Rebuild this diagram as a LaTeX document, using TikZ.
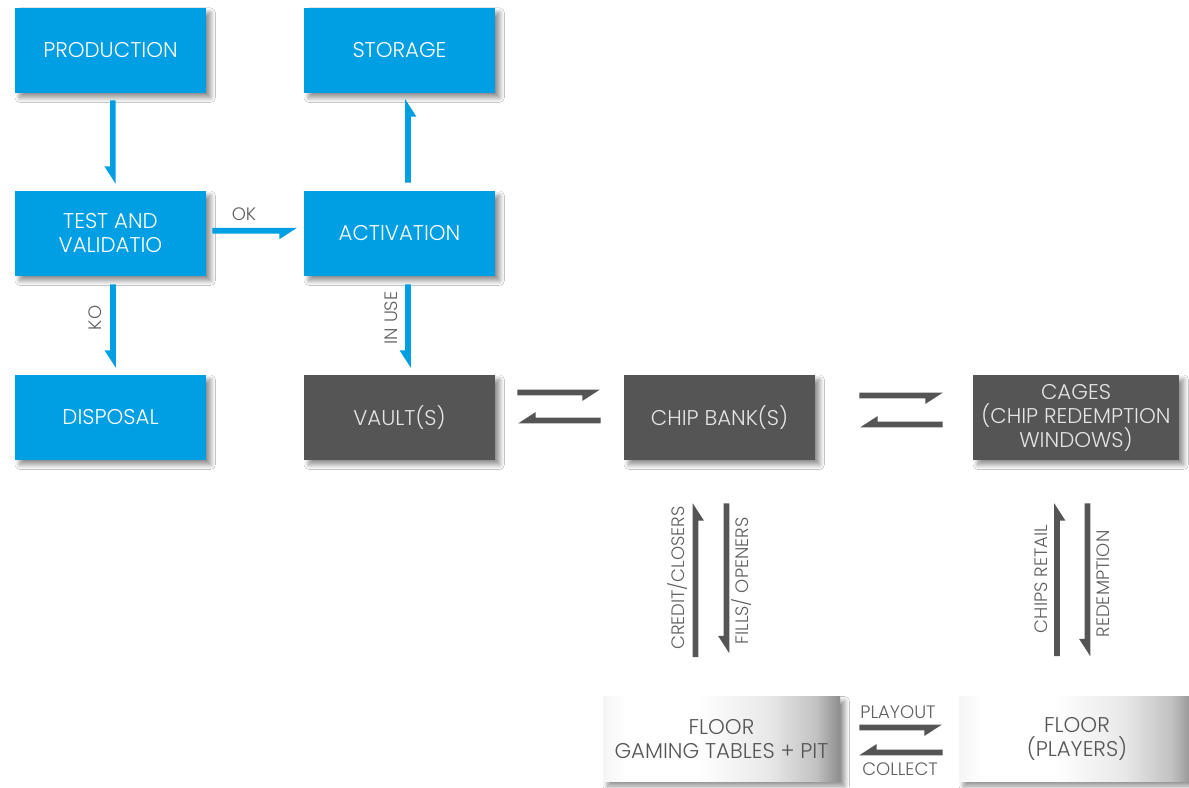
\documentclass[tikz,border=0pt]{standalone}
\usepackage{fontspec}
\setmainfont{Poppins Light}
\usetikzlibrary{calc,shadows.blur}
\definecolor{cblue}{RGB}{0,159,227}
\definecolor{cdark}{RGB}{85,85,85}
\definecolor{carrow}{RGB}{85,85,85}
\definecolor{clabel}{RGB}{95,95,95}
\pgfdeclarehorizontalshading{floorshade}{100bp}{color(0bp)=(black!4); color(25bp)=(black!4); color(30bp)=(white); color(45bp)=(white); color(60bp)=(black!9); color(70bp)=(black!24); color(75bp)=(black!45); color(100bp)=(black!45)}
\def\hw{2.1pt}
\def\hb{6.3pt}
\def\hl{13pt}
\tikzset{
  boxbase/.style={rectangle, minimum width=143.25pt, minimum height=63.75pt, inner sep=0pt, align=center,
    font=\fontsize{16}{18}\selectfont,
    blur shadow={shadow xshift=3.5pt, shadow yshift=-3.5pt, shadow blur radius=3.5pt, shadow blur steps=12, shadow opacity=45}},
  bluebox/.style={boxbase, fill=cblue, text=white},
  darkbox/.style={boxbase, fill=cdark, text=white!90!black},
  floorbox/.style={boxbase, shade, shading=floorshade, text=cdark},
  lbl/.style={font=\fontsize{13.5}{15}\selectfont, text=clabel, inner sep=0pt},
  harp/.style={to path={
    let \p1=(\tikztostart), \p2=(\tikztotarget),
        \n1={veclen(\x2-\x1,\y2-\y1)},
        \n2={(\x2-\x1)/\n1}, \n3={(\y2-\y1)/\n1} in
    ({\x1-(\n3)*\hw},{\y1+(\n2)*\hw})
    -- ({\x2-(\n3)*\hw},{\y2+(\n2)*\hw})
    -- ({\x2-(\n2)*\hl+(\n3)*\hb},{\y2-(\n3)*\hl-(\n2)*\hb})
    -- ({\x2-(\n2)*\hl+(\n3)*\hw},{\y2-(\n3)*\hl-(\n2)*\hw})
    -- ({\x1+(\n3)*\hw},{\y1-(\n2)*\hw}) -- cycle}},
  bluearr/.style={fill=cblue},
  grayarr/.style={fill=carrow},
}
\begin{document}
\begin{tikzpicture}[x=0.75pt,y=-0.75pt]
\useasboundingbox (0,0) rectangle (1189,788);
\fill[white] (0,0) rectangle (1189,788);

% boxes
\node[bluebox] (prod) at (110.5,50.5) {PRODUCTION};
\node[bluebox] (stor) at (399.5,50.5) {STORAGE};
\node[bluebox] (test) at (110.5,233.5) {TEST AND\\VALIDATIO};
\node[bluebox] (act) at (399.5,233.5) {ACTIVATION};
\node[bluebox] (disp) at (110.5,417.5) {DISPOSAL};
\node[darkbox] (vault) at (399.5,417.5) {VAULT(S)};
\node[darkbox] (bank) at (719.5,417.5) {CHIP BANK(S)};
\node[darkbox, minimum width=154.5pt] (cages) at (1076,417.5) {CAGES\\(CHIP REDEMPTION\\WINDOWS)};
\node[floorbox, minimum width=177.75pt] (tables) at (721.5,739) {FLOOR\\GAMING TABLES + PIT};
\node[floorbox, minimum width=177pt] (players) at (1077,739) {FLOOR\\(PLAYERS)};

% blue arrows
\fill[bluearr] ($(prod.south)+(2.3,7)$) to[harp] ($(test.north)+(2.3,-7)$);
\fill[bluearr] ($(act.north)+(8.5,-8)$) to[harp] ($(stor.south)+(8.5,6)$);
\fill[bluearr] ($(test.east)+(6,-2.7)$) to[harp] ($(act.west)+(-7,-2.7)$);
\fill[bluearr] ($(test.south)+(2.5,8)$) to[harp] ($(disp.north)+(2.5,-7)$);
\fill[bluearr] ($(act.south)+(8.5,8)$) to[harp] ($(vault.north)+(8.5,-7)$);

% gray arrows
\fill[grayarr] ($(vault.east)+(22,-25)$) to[harp] ($(bank.west)+(-24,-25)$);
\fill[grayarr] ($(bank.west)+(-23,3)$) to[harp] ($(vault.east)+(23,3)$);
\fill[grayarr] ($(bank.east)+(44,-22)$) to[harp] ($(cages.west)+(-30,-22)$);
\fill[grayarr] ($(cages.west)+(-30,7)$) to[harp] ($(bank.east)+(45,7)$);
\fill[grayarr] ($(tables.north)+(-26,-39)$) to[harp] ($(bank.south)+(-24,43)$);
\fill[grayarr] ($(bank.south)+(7,43)$) to[harp] ($(tables.north)+(5,-43)$);
\fill[grayarr] ($(players.north)+(-20,-40)$) to[harp] ($(cages.south)+(-19,43)$);
\fill[grayarr] ($(cages.south)+(11.5,43)$) to[harp] ($(players.north)+(10.5,-40)$);
\fill[grayarr] ($(tables.east)+(19,-11.5)$) to[harp] ($(players.west)+(-17,-11.5)$);
\fill[grayarr] ($(players.west)+(-16,13.5)$) to[harp] ($(tables.east)+(19,13.5)$);

% labels
\node[lbl] (lok) at (244,214.5) {OK};
\node[lbl, rotate=90] (lko) at (95,318) {KO};
\node[lbl, rotate=90] (luse) at (391,318) {IN USE};
\node[lbl, rotate=90] (lcred) at (678,578) {CREDIT/CLOSERS};
\node[lbl, rotate=90] (lfill) at (742,581) {FILLS/ OPENERS};
\node[lbl, rotate=90] (lchip) at (1041,579) {CHIPS RETAIL};
\node[lbl, rotate=90] (lred) at (1103.5,584) {REDEMPTION};
\node[lbl] (lplay) at (898,712.5) {PLAYOUT};
\node[lbl] (lcoll) at (900,769.5) {COLLECT};
\end{tikzpicture}
\end{document}
